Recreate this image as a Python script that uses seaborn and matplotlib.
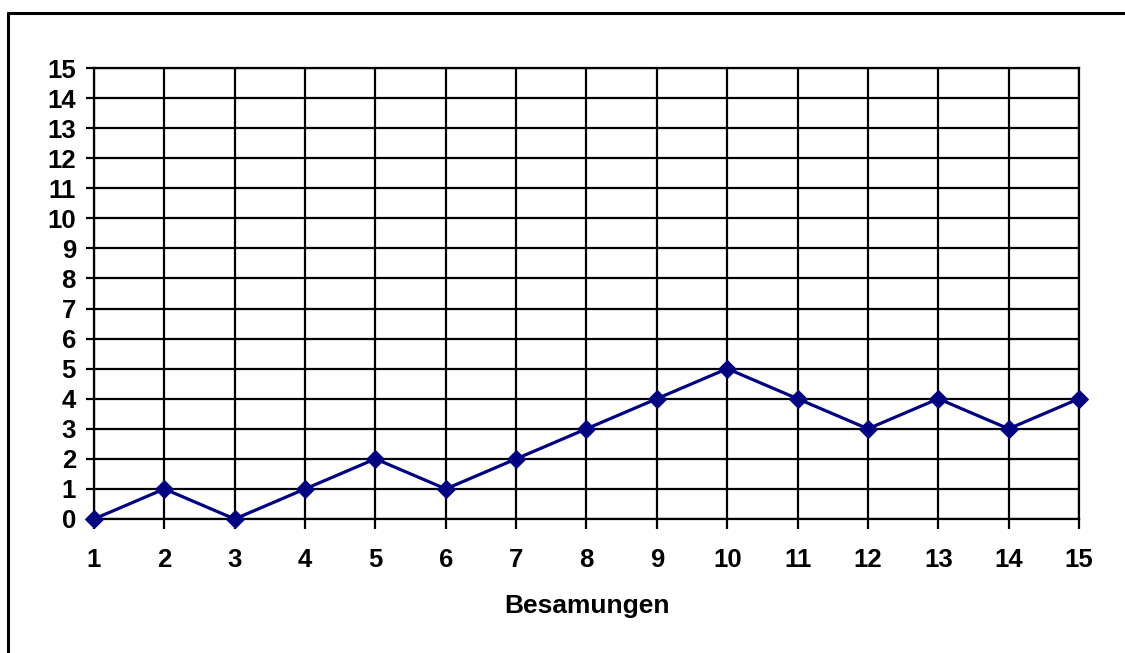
import matplotlib
matplotlib.use("Agg")
import matplotlib.pyplot as plt
from matplotlib.lines import Line2D
import seaborn as sns
import pandas as pd

# Daten
besamungen = list(range(1, 16))
werte = [0, 1, 0, 1, 2, 1, 2, 3, 4, 5, 4, 3, 4, 3, 4]
y_ticks = list(range(0, 16))

df = pd.DataFrame({"Besamungen": besamungen, "Wert": werte})

sns.set_style("white")
plt.rcParams["font.family"] = ["Liberation Sans", "DejaVu Sans"]
plt.rcParams["font.weight"] = "bold"
plt.rcParams["text.color"] = "black"
plt.rcParams["axes.labelcolor"] = "black"
plt.rcParams["xtick.color"] = "black"
plt.rcParams["ytick.color"] = "black"

fig = plt.figure(figsize=(11.25, 6.53), dpi=100)
ax = fig.add_axes([94 / 1125, 1 - 519 / 653, 985 / 1125, 451 / 653])

sns.lineplot(
    data=df, x="Besamungen", y="Wert", ax=ax,
    color="#000080", linewidth=2.3,
    marker="D", markersize=9.5, markeredgecolor="#000080",
    clip_on=False, zorder=5,
)

ax.set_xlim(1, 15)
ax.set_ylim(0, 15)
ax.set_xticks(besamungen)
ax.set_yticks(y_ticks)
ax.set_xticklabels([str(v) for v in besamungen], fontsize=18.5, fontweight="bold")
ax.set_yticklabels([str(v) for v in y_ticks], fontsize=18.5, fontweight="bold")

# Gitternetz
ax.grid(True, color="black", linewidth=1.6, zorder=0)
for s in ax.spines.values():
    s.set_color("black")
    s.set_linewidth(1.6)

ax.tick_params(axis="y", direction="out", length=6, width=1.6, pad=7, left=True)
ax.tick_params(axis="x", direction="out", length=7, width=1.6, pad=14, bottom=True)

ax.set_xlabel("Besamungen", fontsize=19, fontweight="bold", labelpad=16)
ax.set_ylabel("")

# äußerer Rahmen (nur links und oben sichtbar)
x0 = 8 / 1125
y0 = 1 - 13 / 653
fig.add_artist(Line2D([x0, x0], [0, y0], transform=fig.transFigure, color="black", linewidth=2.2))
fig.add_artist(Line2D([x0, 1], [y0, y0], transform=fig.transFigure, color="black", linewidth=2.2))

fig.savefig("out.png", dpi=100)
